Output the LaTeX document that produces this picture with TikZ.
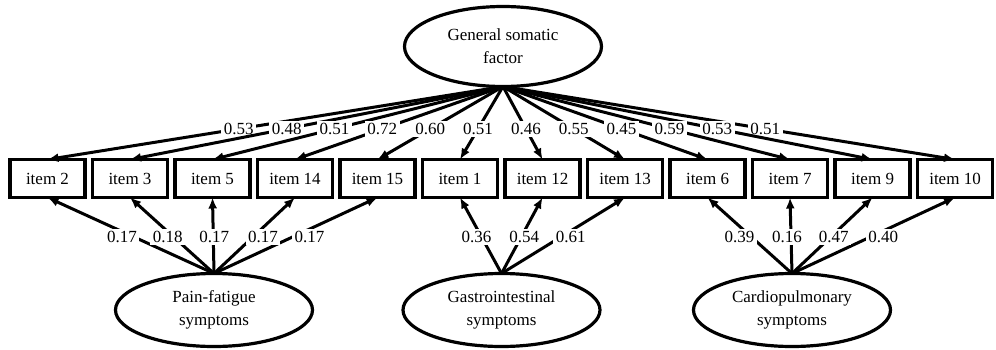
\documentclass[tikz,border=0pt]{standalone}
\usepackage{tikz}
\usepackage{tkz-graph}
\usepackage{fontspec}
\setmainfont{Liberation Serif}
\usetikzlibrary{shapes,arrows,arrows.meta}
\newcommand{\factornode}[5]{
  \SetVertexNormal[Shape      = ellipse,
                   FillColor  = white,
                   LineWidth  = 3.2pt]
  \tikzset{VertexStyle/.append style={minimum width=197pt,
                   minimum height=#3pt, align=center,
                   font=\rmfamily\fontsize{17}{23}\selectfont}}
  \Vertex[x=#1,y=#2,L={#4}]{#5}
  \SetVertexNormal[Shape      = rectangle,
                   FillColor  = white,
                   LineWidth  = 3.2pt]
  \tikzset{VertexStyle/.append style={minimum width=75pt,
                   minimum height=38pt, inner sep=0pt,
                   font=\rmfamily\fontsize{17}{23}\selectfont}}
}

\begin{document}
\begin{tikzpicture}[x=1pt,y=1pt]
	\useasboundingbox (0,0) rectangle (996,349);
	\factornode{503}{302.5}{80}{General somatic\\factor}{G}
	\Vertex[x=47.5,y=170.5,L={item 2}]{I2}
	\Vertex[x=130,y=170.5,L={item 3}]{I3}
	\Vertex[x=212.5,y=170.5,L={item 5}]{I5}
	\Vertex[x=295,y=170.5,L={item 14}]{I14}
	\Vertex[x=377.5,y=170.5,L={item 15}]{I15}
	\Vertex[x=460,y=170.5,L={item 1}]{I1}
	\Vertex[x=542.5,y=170.5,L={item 12}]{I12}
	\Vertex[x=625,y=170.5,L={item 13}]{I13}
	\Vertex[x=707.5,y=170.5,L={item 6}]{I6}
	\Vertex[x=790,y=170.5,L={item 7}]{I7}
	\Vertex[x=872.5,y=170.5,L={item 9}]{I9}
	\Vertex[x=955,y=170.5,L={item 10}]{I10}
	\factornode{214}{39}{73}{Pain-fatigue\\symptoms}{P}
	\factornode{501.5}{39}{73}{Gastrointestinal\\symptoms}{GI}
	\factornode{792}{39}{73}{Cardiopulmonary\\symptoms}{CP}
	\tikzstyle{EdgeStyle}=[-{Latex[length=11pt,width=9pt]},line width=3pt]
	\tikzstyle{LabelStyle}=[fill=white,inner sep=2.5pt,
	                        font=\rmfamily\fontsize{17}{20}\selectfont]
	% general factor
	\Edge[label=0.53,labelstyle={pos=0.58}](G.south)(I2.north)
	\Edge[label=0.48,labelstyle={pos=0.58}](G.south)(I3.north)
	\Edge[label=0.51,labelstyle={pos=0.58}](G.south)(I5.north)
	\Edge[label=0.72,labelstyle={pos=0.58}](G.south)(I14.north)
	\Edge[label=0.60,labelstyle={pos=0.58}](G.south)(I15.north)
	\Edge[label=0.51,labelstyle={pos=0.58}](G.south)(I1.north)
	\Edge[label=0.51,labelstyle={pos=0.58}](G.south)(I10.north)
	\Edge[label=0.53,labelstyle={pos=0.58}](G.south)(I9.north)
	\Edge[label=0.59,labelstyle={pos=0.58}](G.south)(I7.north)
	\Edge[label=0.45,labelstyle={pos=0.58}](G.south)(I6.north)
	\Edge[label=0.55,labelstyle={pos=0.58}](G.south)(I13.north)
	\Edge[label=0.46,labelstyle={pos=0.58}](G.south)(I12.north)
	% specific factors
	\Edge[label=0.17,labelstyle={pos=0.48,xshift=-12pt}](P.north)(I2.south)
	\Edge[label=0.17,labelstyle={pos=0.48,xshift=17pt}](P.north)(I15.south)
	\Edge[label=0.18,labelstyle={pos=0.48,xshift=-6pt}](P.north)(I3.south)
	\Edge[label=0.17,labelstyle={pos=0.48,xshift=10pt}](P.north)(I14.south)
	\Edge[label=0.17,labelstyle={pos=0.48,xshift=1pt}](P.north)(I5.south)
	\Edge[label=0.36,labelstyle={pos=0.48,xshift=-5pt}](GI.north)(I1.south)
	\Edge[label=0.61,labelstyle={pos=0.48,xshift=10pt}](GI.north)(I13.south)
	\Edge[label=0.54,labelstyle={pos=0.48,xshift=3pt}](GI.north)(I12.south)
	\Edge[label=0.40,labelstyle={pos=0.48,xshift=13pt}](CP.north)(I10.south)
	\Edge[label=0.39,labelstyle={pos=0.48,xshift=-12pt}](CP.north)(I6.south)
	\Edge[label=0.47,labelstyle={pos=0.48,xshift=3pt}](CP.north)(I9.south)
	\Edge[label=0.16,labelstyle={pos=0.48,xshift=-4pt}](CP.north)(I7.south)
\end{tikzpicture}
\end{document}
